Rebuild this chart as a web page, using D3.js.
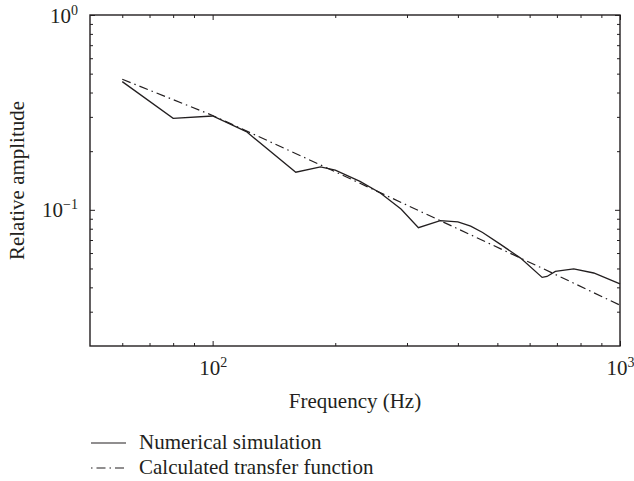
<!DOCTYPE html>
<html>
<head>
<meta charset="utf-8">
<script src="https://cdn.jsdelivr.net/npm/d3@7"></script>
<style>
  body { margin: 0; background: #fff; }
  text { font-family: "Liberation Serif", "Times New Roman", serif; fill: #231f20; }
</style>
</head>
<body>
<script>
// Data (frequency in Hz, relative amplitude)
const freqSim = [60, 80, 100, 121, 160, 184, 200, 230, 258, 290, 320, 362, 400, 430, 460, 509, 570, 644, 662, 694, 770, 862, 1000];
const ampSim = [0.455, 0.295, 0.303, 0.252, 0.156, 0.166, 0.160, 0.140, 0.122, 0.101, 0.081, 0.088, 0.0868, 0.0825, 0.0765, 0.0665, 0.0565, 0.045, 0.0455, 0.0483, 0.0498, 0.0474, 0.0417];

const freqCalc = [60, 100, 184, 362, 649, 1000];
const ampCalc = [0.468, 0.305, 0.170, 0.088, 0.0498, 0.0324];

// tick values
const xMajor = [100, 1000];
const xMinor = [60, 70, 80, 90, 200, 300, 400, 500, 600, 700, 800, 900];
const yMajor = [0.1, 1];
const yMinor = [0.03, 0.04, 0.05, 0.06, 0.07, 0.08, 0.09, 0.2, 0.3, 0.4, 0.5, 0.6, 0.7, 0.8, 0.9];
const xExp = {100: "2", 1000: "3"};
const yExp = {0.1: "\u22121", 1: "0"};

const legendLabels = ["Numerical simulation", "Calculated transfer function"];

const svgWidth = 634;
const svgHeight = 481;
const margin = { top: 15, right: 14, bottom: 135, left: 90 };
const chartWidth = svgWidth - margin.left - margin.right;
const chartHeight = svgHeight - margin.top - margin.bottom;

const ink = "#231f20";
const dashDot = "9,4,1.5,4";
const fontSize = "21px";

const svg = d3.select("body").append("svg")
  .attr("width", svgWidth)
  .attr("height", svgHeight);

const chartGroup = svg.append("g")
  .attr("transform", `translate(${margin.left}, ${margin.top})`);

const x = d3.scaleLog().domain([50, 1000]).range([0, chartWidth]);
const y = d3.scaleLog().domain([0.02, 1]).range([chartHeight, 0]);

// inward ticks on all four sides
function addTicks(axisFn, scale, values, size, transform) {
  const g = chartGroup.append("g")
    .attr("transform", transform)
    .call(axisFn(scale).tickValues(values).tickSize(-size).tickFormat(""));
  g.select(".domain").remove();
  g.selectAll("line").attr("stroke", ink).attr("stroke-width", 1);
  return g;
}

addTicks(d3.axisBottom, x, xMinor, 3, `translate(0, ${chartHeight})`);
const xAxisMajor = addTicks(d3.axisBottom, x, xMajor, 5, `translate(0, ${chartHeight})`);
addTicks(d3.axisTop, x, xMinor, 3, "translate(0, 0)");
addTicks(d3.axisTop, x, xMajor, 5, "translate(0, 0)");
addTicks(d3.axisLeft, y, yMinor, 3, "translate(0, 0)");
const yAxisMajor = addTicks(d3.axisLeft, y, yMajor, 5, "translate(0, 0)");
addTicks(d3.axisRight, y, yMinor, 3, `translate(${chartWidth}, 0)`);
addTicks(d3.axisRight, y, yMajor, 5, `translate(${chartWidth}, 0)`);

// power-of-ten labels
xAxisMajor.selectAll(".tick").append("text")
  .attr("y", 29)
  .attr("text-anchor", "middle")
  .style("font-size", fontSize)
  .each(function(d) {
    const t = d3.select(this);
    t.append("tspan").text("10");
    t.append("tspan").attr("dy", -8).style("font-size", "14px").text(xExp[d]);
  });

yAxisMajor.selectAll(".tick").append("text")
  .attr("x", -12)
  .attr("dy", 7)
  .attr("text-anchor", "end")
  .style("font-size", fontSize)
  .each(function(d) {
    const t = d3.select(this);
    t.append("tspan").text("10");
    t.append("tspan").attr("dy", -8).style("font-size", "14px").text(yExp[d]);
  });

// frame
chartGroup.append("rect")
  .attr("width", chartWidth)
  .attr("height", chartHeight)
  .attr("fill", "none")
  .attr("stroke", ink)
  .attr("stroke-width", 1.4);

// curves
const line = d3.line()
  .x(d => x(d[0]))
  .y(d => y(d[1]));

chartGroup.append("path")
  .datum(d3.zip(freqSim, ampSim))
  .attr("d", line)
  .attr("fill", "none")
  .attr("stroke", ink)
  .attr("stroke-width", 1.3);

chartGroup.append("path")
  .datum(d3.zip(freqCalc, ampCalc))
  .attr("d", line)
  .attr("fill", "none")
  .attr("stroke", ink)
  .attr("stroke-width", 1.2)
  .attr("stroke-dasharray", dashDot);

// axis titles
chartGroup.append("text")
  .attr("transform", `translate(${chartWidth / 2}, ${chartHeight + 62})`)
  .attr("text-anchor", "middle")
  .style("font-size", fontSize)
  .text("Frequency (Hz)");

svg.append("text")
  .attr("transform", `translate(24, ${margin.top + chartHeight / 2}) rotate(-90)`)
  .attr("text-anchor", "middle")
  .style("font-size", fontSize)
  .text("Relative amplitude");

// legend
const legend = svg.append("g")
  .attr("transform", "translate(91, 443)");

legendLabels.forEach(function(label, i) {
  const row = legend.append("g").attr("transform", `translate(0, ${i * 25})`);
  row.append("line")
    .attr("x1", 0).attr("x2", 35)
    .attr("stroke", ink)
    .attr("stroke-width", 1.2)
    .attr("stroke-dasharray", i === 0 ? null : "1.5,4,9,4");
  row.append("text")
    .attr("x", 48)
    .attr("y", 6)
    .style("font-size", fontSize)
    .text(label);
});
</script>
</body>
</html>
